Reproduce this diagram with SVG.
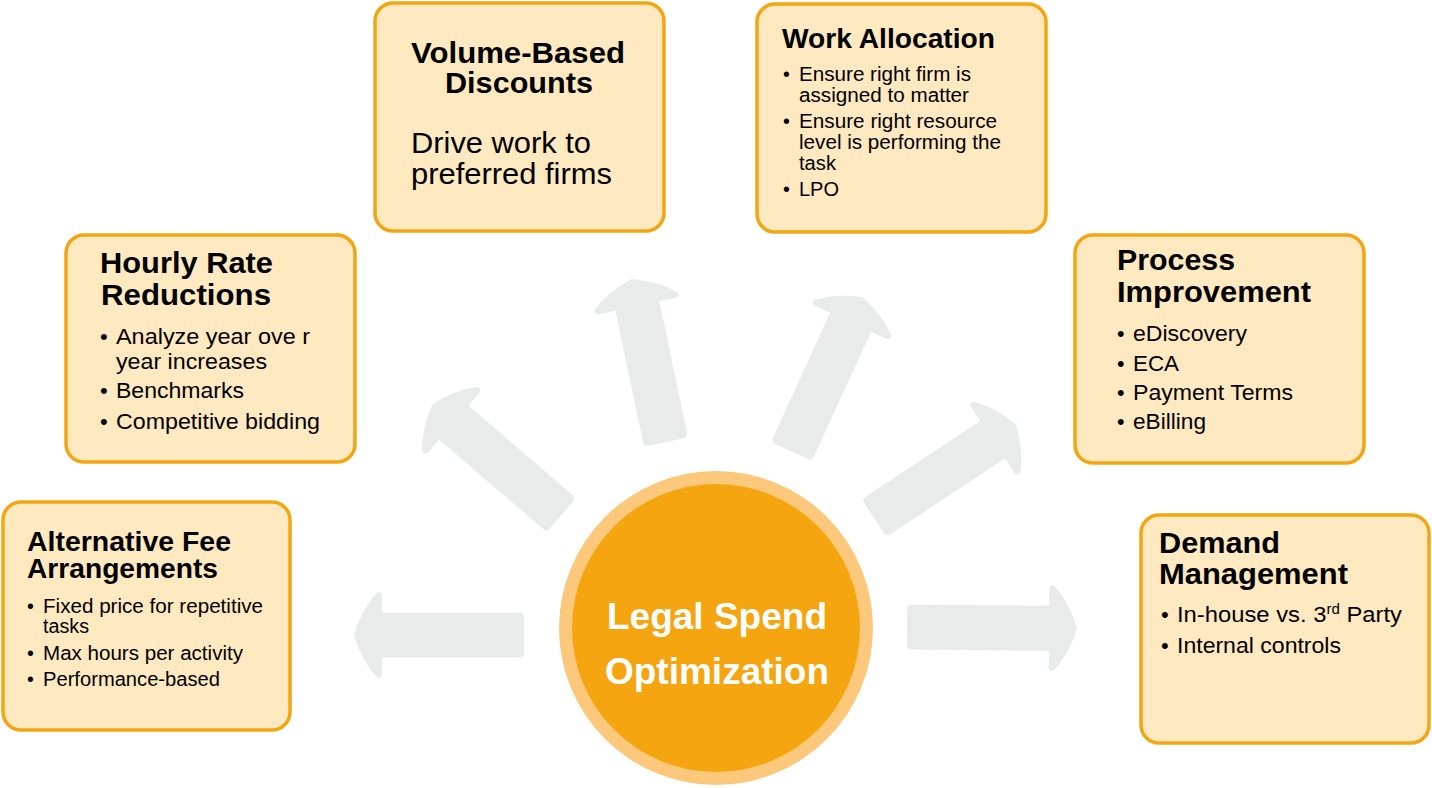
<svg xmlns="http://www.w3.org/2000/svg" width="1432" height="788" viewBox="0 0 1432 788">
<defs>
<style>
.box{fill:#FEE9C1;stroke:#F3A612;stroke-width:3.5}
.t{font-family:"Liberation Sans",Arial,Helvetica,sans-serif;fill:#000}
.b{font-weight:bold}
.arrow{fill:#E9EAEA}
.ctext{font-family:"Liberation Sans",Arial,Helvetica,sans-serif;font-weight:bold;fill:#fff;font-size:37px}
</style>
<path id="arr" d="M5,-22.5 H142 V-38 Q142,-45 147.5,-42 Q162,-26 170,0 Q162,26 147.5,42 Q142,45 142,38 V22.5 H5 Q0,22.5 0,17.5 V-17.5 Q0,-22.5 5,-22.5 Z"/>
</defs>
<rect width="1432" height="788" fill="#fff"/>
<g id="connectors" class="arrow">
<use href="#arr" transform="translate(524,635) rotate(180)"/>
<use href="#arr" transform="translate(907,627) rotate(0.5)"/>
<use href="#arr" transform="translate(561.5,515) rotate(220.6)"/>
<use href="#arr" transform="translate(666,442) rotate(258.1) scale(0.98,1)"/>
<use href="#arr" transform="translate(791.5,451.5) rotate(-65.4)"/>
<use href="#arr" transform="translate(874,518) rotate(-33.4)"/>
</g>
<g id="center">
<circle cx="716" cy="628" r="157" fill="#FCC97C"/>
<circle cx="716" cy="628" r="144" fill="#F4A50F"/>
<text class="ctext" x="717" y="629" text-anchor="middle">Legal Spend</text>
<text class="ctext" x="717" y="684" text-anchor="middle">Optimization</text>
</g>
<g id="node-alt-fee">
<rect class="box" x="3" y="502" width="287" height="228" rx="18"/>
<text class="t b" font-size="27" x="27" y="551" textLength="204" lengthAdjust="spacingAndGlyphs">Alternative Fee</text>
<text class="t b" font-size="27" x="27" y="578" textLength="191" lengthAdjust="spacingAndGlyphs">Arrangements</text>
<g class="t" font-size="19.5">
<text x="27" y="613">•</text>
<text x="43" y="613" textLength="220" lengthAdjust="spacingAndGlyphs">Fixed price for repetitive</text>
<text x="43" y="633" textLength="46" lengthAdjust="spacingAndGlyphs">tasks</text>
<text x="27" y="660">•</text>
<text x="43" y="660" textLength="200" lengthAdjust="spacingAndGlyphs">Max hours per activity</text>
<text x="27" y="686">•</text>
<text x="43" y="686" textLength="177" lengthAdjust="spacingAndGlyphs">Performance-based</text>
</g>
</g>
<g id="node-hourly">
<rect class="box" x="66" y="235" width="289" height="227" rx="18"/>
<text class="t b" font-size="29" x="100" y="273" textLength="173" lengthAdjust="spacingAndGlyphs">Hourly Rate</text>
<text class="t b" font-size="29" x="101" y="305" textLength="170" lengthAdjust="spacingAndGlyphs">Reductions</text>
<g class="t" font-size="22">
<text x="100" y="344">•</text>
<text x="116" y="344" textLength="194" lengthAdjust="spacingAndGlyphs">Analyze year ove r</text>
<text x="116" y="369" textLength="151" lengthAdjust="spacingAndGlyphs">year increases</text>
<text x="100" y="398">•</text>
<text x="116" y="398" textLength="128" lengthAdjust="spacingAndGlyphs">Benchmarks</text>
<text x="100" y="429">•</text>
<text x="116" y="429" textLength="204" lengthAdjust="spacingAndGlyphs">Competitive bidding</text>
</g>
</g>
<g id="node-volume">
<rect class="box" x="375" y="3" width="289" height="228" rx="18"/>
<text class="t b" font-size="29" x="411" y="63" textLength="214" lengthAdjust="spacingAndGlyphs">Volume-Based</text>
<text class="t b" font-size="29" x="445" y="93" textLength="148" lengthAdjust="spacingAndGlyphs">Discounts</text>
<text class="t" font-size="29" x="411" y="153" textLength="180" lengthAdjust="spacingAndGlyphs">Drive work to</text>
<text class="t" font-size="29" x="411" y="184" textLength="201" lengthAdjust="spacingAndGlyphs">preferred firms</text>
</g>
<g id="node-work">
<rect class="box" x="757" y="4" width="289" height="228" rx="18"/>
<text class="t b" font-size="27" x="782" y="48" textLength="213" lengthAdjust="spacingAndGlyphs">Work Allocation</text>
<g class="t" font-size="19.5">
<text x="783" y="81">•</text>
<text x="799" y="81" textLength="172" lengthAdjust="spacingAndGlyphs">Ensure right firm is</text>
<text x="799" y="102" textLength="170" lengthAdjust="spacingAndGlyphs">assigned to matter</text>
<text x="783" y="128">•</text>
<text x="799" y="128" textLength="198" lengthAdjust="spacingAndGlyphs">Ensure right resource</text>
<text x="799" y="149" textLength="202" lengthAdjust="spacingAndGlyphs">level is performing the</text>
<text x="799" y="170" textLength="37" lengthAdjust="spacingAndGlyphs">task</text>
<text x="783" y="196">•</text>
<text x="799" y="196" textLength="40" lengthAdjust="spacingAndGlyphs">LPO</text>
</g>
</g>
<g id="node-process">
<rect class="box" x="1075" y="235" width="289" height="228" rx="18"/>
<text class="t b" font-size="29" x="1117" y="270" textLength="118" lengthAdjust="spacingAndGlyphs">Process</text>
<text class="t b" font-size="29" x="1117" y="302" textLength="194" lengthAdjust="spacingAndGlyphs">Improvement</text>
<g class="t" font-size="21.5">
<text x="1117" y="341">•</text>
<text x="1133" y="341" textLength="114" lengthAdjust="spacingAndGlyphs">eDiscovery</text>
<text x="1117" y="371">•</text>
<text x="1133" y="371" textLength="46" lengthAdjust="spacingAndGlyphs">ECA</text>
<text x="1117" y="400">•</text>
<text x="1133" y="400" textLength="160" lengthAdjust="spacingAndGlyphs">Payment Terms</text>
<text x="1117" y="429">•</text>
<text x="1133" y="429" textLength="73" lengthAdjust="spacingAndGlyphs">eBilling</text>
</g>
</g>
<g id="node-demand">
<rect class="box" x="1141" y="515" width="288" height="228" rx="18"/>
<text class="t b" font-size="29" x="1159" y="553" textLength="121" lengthAdjust="spacingAndGlyphs">Demand</text>
<text class="t b" font-size="29" x="1159" y="584" textLength="189" lengthAdjust="spacingAndGlyphs">Management</text>
<g class="t" font-size="22">
<text x="1161" y="622">•</text>
<text x="1177" y="622" textLength="225" lengthAdjust="spacingAndGlyphs">In-house vs. 3<tspan font-size="14" dy="-8">rd</tspan><tspan dy="8"> Party</tspan></text>
<text x="1161" y="653">•</text>
<text x="1177" y="653" textLength="164" lengthAdjust="spacingAndGlyphs">Internal controls</text>
</g>
</g>
</svg>
